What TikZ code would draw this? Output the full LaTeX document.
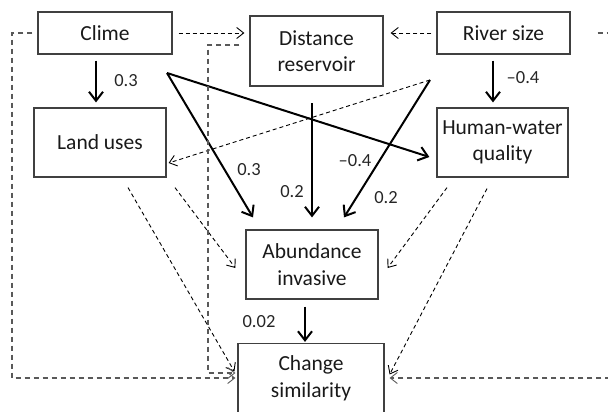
\documentclass[tikz,border=0pt]{standalone}
\usepackage{fontspec}
\setmainfont{Carlito}
\usetikzlibrary{arrows.meta}
\begin{document}
\begin{tikzpicture}[x=1pt, y=-1pt,
    boxStyle/.style={draw=black!75, line width=1.2pt, align=center, inner sep=0pt, text=black!90, font=\fontsize{21.5}{26.5}\selectfont},
    pathStyle/.style={line width=2pt, -{Straight Barb[length=9pt, width=14pt, line width=2pt]}},
    hintStyle/.style={line width=0.9pt, dash pattern=on 4pt off 3pt, -{Straight Barb[length=7pt, width=11pt, line width=0.9pt]}},
    loopStyle/.style={draw=black!65, line width=1.4pt, dash pattern=on 5pt off 4pt, -{Straight Barb[length=7pt, width=11pt, line width=0.9pt]}},
    coefStyle/.style={inner sep=0pt, text=black!85, font=\fontsize{18.5}{22}\selectfont}]
    \clip (0,0) rectangle (608,412);

    \node[boxStyle, minimum width=134pt, minimum height=42pt](clime) at (105, 33) {Clime};
    \node[boxStyle, minimum width=133pt, minimum height=70pt](dist) at (316.5, 51) {Distance\\reservoir};
    \node[boxStyle, minimum width=133pt, minimum height=42pt](river) at (503.5, 33) {River size};
    \node[boxStyle, minimum width=132pt, minimum height=69pt](land) at (100, 142.5) {Land uses};
    \node[boxStyle, minimum width=131pt, minimum height=69pt](human) at (502.5, 142.5) {Human-water\\quality};
    \node[boxStyle, minimum width=132pt, minimum height=69pt](abund) at (312, 264.5) {Abundance\\invasive};
    \node[boxStyle, minimum width=146pt, minimum height=70pt](change) at (311, 378.5) {Change\\similarity};

    \coordinate (climeHub) at (167, 73);
    \coordinate (riverHub) at (430, 80);
    \coordinate (distFoot) at (312, 103);
    \coordinate (leftLane) at (12, 378);
    \coordinate (midLane) at (208, 373);
    \coordinate (rightLane) at (625, 378);

    % direct effects
    \draw[pathStyle] ([xshift=-9pt, yshift=-6pt]clime.south) -- ([xshift=-4pt, yshift=5pt]land.north);
    \draw[pathStyle] ([xshift=-10.5pt, yshift=-6pt]river.south) -- ([xshift=-9.5pt, yshift=5pt]human.north);
    \draw[pathStyle] (climeHub) -- ([xshift=-59pt, yshift=12pt]abund.north);
    \draw[pathStyle] (climeHub) -- ([xshift=-7pt, yshift=-14.5pt]human.west);
    \draw[pathStyle] (distFoot) -- ([yshift=12pt]abund.north);
    \draw[pathStyle] (riverHub) -- ([xshift=32pt, yshift=12pt]abund.north);
    \draw[pathStyle] ([xshift=-7pt, yshift=-7pt]abund.south) -- ([xshift=-6pt, yshift=1pt]change.north);

    % non significant
    \draw[hintStyle] ([xshift=6pt]clime.east) -- ([xshift=-5pt]dist.west |- clime.east);
    \draw[hintStyle] ([xshift=-5pt]river.west) -- ([xshift=7pt]dist.east |- river.west);
    \draw[hintStyle] (riverHub) -- ([xshift=2pt, yshift=-20.5pt]land.east);
    \draw[hintStyle] ([xshift=75pt, yshift=-10pt]land.south) -- ([xshift=-10pt, yshift=-3.5pt]abund.west);
    \draw[hintStyle] ([xshift=28pt, yshift=-10pt]land.south) -- ([xshift=-3pt, yshift=7pt]change.west);
    \draw[hintStyle] ([xshift=-55.5pt, yshift=-10pt]human.south) -- ([xshift=9pt, yshift=-3.5pt]abund.east);
    \draw[hintStyle] ([xshift=-15.5pt, yshift=-11pt]human.south) -- ([xshift=5pt, yshift=4pt]change.east);

    \draw[loopStyle] ([xshift=-5pt]clime.west) -| (leftLane) -- ([xshift=-2pt, yshift=0.5pt]change.west);
    \draw[loopStyle] ([xshift=-10pt, yshift=6pt]dist.west) -| (midLane) -- ([xshift=-2pt, yshift=5.5pt]change.west);
    \draw[loopStyle] ([xshift=27pt]river.east) -| (rightLane) -- ([xshift=5pt, yshift=0.5pt]change.east);

    % coefficients
    \node[coefStyle](c1) at (126, 81) {0.3};
    \node[coefStyle](c2) at (523, 78) {--0.4};
    \node[coefStyle](c3) at (249, 170) {0.3};
    \node[coefStyle](c4) at (292, 192) {0.2};
    \node[coefStyle](c5) at (355, 161) {--0.4};
    \node[coefStyle](c6) at (386, 198) {0.2};
    \node[coefStyle](c7) at (259, 322) {0.02};
\end{tikzpicture}
\end{document}
